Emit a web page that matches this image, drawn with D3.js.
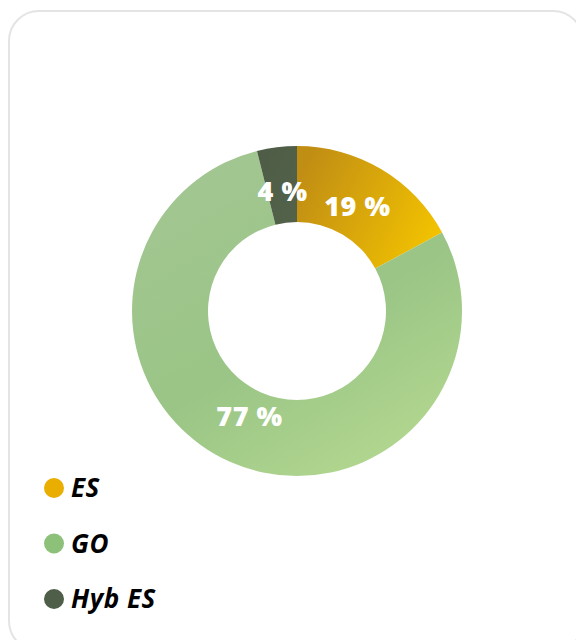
<!DOCTYPE html>
<html>
<head>
<meta charset="utf-8">
<script src="https://cdn.jsdelivr.net/npm/d3@7"></script>
<style>
	html, body { margin: 0; padding: 0; background: #fff; }
	svg { display: block; }
	.slice-label { font-family: 'Open Sans', sans-serif; font-weight: 800; fill: #fff; letter-spacing: 0.5px; }
	.legend-label { font-family: 'Open Sans', sans-serif; font-weight: 700; font-style: italic; fill: #000; letter-spacing: 0.5px; }
</style>
</head>
<body>
<svg id="chart" width="576" height="640"></svg>
<script>
"use strict";

// categories in drawing order (clockwise from 12 o'clock)
var categories = ['ES', 'GO', 'Hyb ES'];
// share of each slice as it is drawn
var shares = [17.1, 79.0, 3.9];
// text printed on each slice
var sliceLabels = ['19 %', '77 %', '4 %'];
var legendColors = ['#e9ae00', '#8dc079', '#4e5e48'];

var svg = d3.select('#chart');

// card frame
svg.append('rect')
	.attr('x', 9)
	.attr('y', 11)
	.attr('width', 574)
	.attr('height', 640)
	.attr('rx', 30)
	.attr('fill', '#fff')
	.attr('stroke', '#e4e4e4')
	.attr('stroke-width', 2);

var cx = 297, cy = 311;
var outerR = 165, innerR = 89;

// gradients for the slices
var defs = svg.append('defs');
var gradStops = [
	[['0%', '#c18e14'], ['100%', '#f3c300']],
	[['0%', '#a3c692'], ['55%', '#9ac586'], ['100%', '#b4d890']],
	[['0%', '#4e5c47'], ['100%', '#536249']]
];
var gradDirs = [
	{ x1: '0%', y1: '30%', x2: '100%', y2: '70%' },
	{ x1: '20%', y1: '0%', x2: '80%', y2: '100%' },
	{ x1: '0%', y1: '0%', x2: '100%', y2: '100%' }
];
gradStops.forEach(function(stops, i) {
	var g = defs.append('linearGradient')
		.attr('id', 'grad' + i)
		.attr('x1', gradDirs[i].x1).attr('y1', gradDirs[i].y1)
		.attr('x2', gradDirs[i].x2).attr('y2', gradDirs[i].y2);
	stops.forEach(function(s) {
		g.append('stop').attr('offset', s[0]).attr('stop-color', s[1]);
	});
});

var pie = d3.pie().sort(null).value(function(d) { return d; });
var arc = d3.arc().innerRadius(innerR).outerRadius(outerR);
// labels sit a bit inside the middle of the ring
var labelArc = d3.arc().innerRadius(116).outerRadius(120);

var arcs = pie(shares);
var g = svg.append('g')
	.attr('transform', 'translate(' + cx + ',' + cy + ')');

g.selectAll('path.slice')
	.data(arcs)
	.enter()
	.append('path')
	.attr('class', 'slice')
	.attr('d', arc)
	.attr('fill', function(d, i) { return 'url(#grad' + i + ')'; });

g.selectAll('text.slice-label')
	.data(arcs)
	.enter()
	.append('text')
	.attr('class', 'slice-label')
	.attr('transform', function(d) {
		var c = labelArc.centroid(d);
		return 'translate(' + c[0] + ',' + (c[1] - 3) + ')';
	})
	.attr('text-anchor', 'middle')
	.attr('dy', '0.36em')
	.style('font-size', '27px')
	.text(function(d, i) { return sliceLabels[i]; });

// legend
var legendY = d3.scalePoint()
	.domain(categories)
	.range([488, 599]);

var legend = svg.append('g').attr('class', 'legend');
var items = legend.selectAll('g')
	.data(categories)
	.enter()
	.append('g')
	.attr('transform', function(d) { return 'translate(54,' + legendY(d) + ')'; });

items.append('circle')
	.attr('r', 10)
	.attr('fill', function(d, i) { return legendColors[i]; });

items.append('text')
	.attr('class', 'legend-label')
	.attr('x', 17)
	.attr('dy', '0.36em')
	.style('font-size', '26px')
	.text(function(d) { return d; });
</script>
</body>
</html>
